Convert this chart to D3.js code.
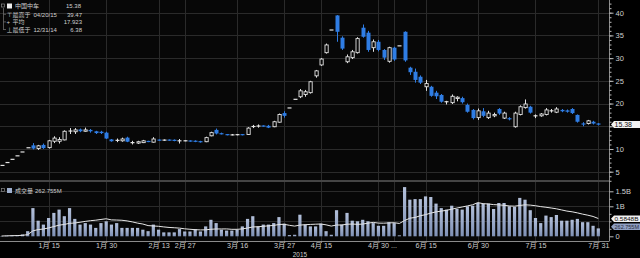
<!DOCTYPE html>
<html><head><meta charset="utf-8">
<script src="https://cdn.jsdelivr.net/npm/d3@7/dist/d3.min.js"></script>
<style>
html,body{margin:0;padding:0;background:#000;}
svg{display:block;}
text{font-family:"Liberation Sans","Noto Sans CJK SC",sans-serif;}
</style></head><body>
<svg id="c" width="640" height="258"></svg>
<script>
// ---------- DATA ----------
const dates = ["12/31","1/5","1/6","1/7","1/8","1/9","1/12","1/13","1/14","1/15","1/16","1/19","1/20","1/21","1/22","1/23","1/26","1/27","1/28","1/29","1/30","2/2","2/3","2/4","2/5","2/6","2/9","2/10","2/11","2/12","2/13","2/16","2/17","2/25","2/26","2/27","3/2","3/3","3/4","3/5","3/6","3/9","3/10","3/11","3/12","3/16","3/17","3/18","3/19","3/20","3/23","3/24","3/25","3/26","3/27","3/30","3/31","4/1","4/2","4/3","4/14","4/15","4/16","4/17","4/20","4/21","4/22","4/23","4/24","4/27","4/28","4/29","4/30","5/4","5/5","5/6","5/7","6/8","6/9","6/10","6/12","6/15","6/16","6/17","6/18","6/19","6/23","6/24","6/25","6/26","6/29","6/30","7/1","7/2","7/3","7/6","7/7","7/8","7/9","7/10","7/13","7/14","7/15","7/16","7/17","7/20","7/21","7/22","7/23","7/24","7/27","7/28","7/29","7/30","7/31"];
const open  = [6.38,7.02,7.72,8.49,9.34,10.27,10.8,10.1,10.9,10.3,11.7,11.7,12.0,13.9,13.8,14.3,13.9,14.2,13.9,13.8,13.6,12.1,11.9,11.8,12.5,11.4,11.3,11.4,11.7,11.5,12.0,11.9,12.0,12.0,11.8,11.8,11.8,11.8,11.7,11.6,12.9,14.2,13.4,13.2,13.1,13.1,13.2,13.2,14.9,15.0,15.1,15.1,14.9,15.9,17.9,19.03,20.93,21.5,22.0,22.4,26.1,28.5,31.2,36.19,39.4,34.5,29.2,30.1,31.2,36.7,35.6,32.3,33.6,31.8,29.3,32.3,32.7,35.8,27.9,27.0,25.9,23.7,23.7,22.4,21.9,20.4,20.2,21.1,21.2,19.7,18.6,16.9,18.3,16.9,17.3,18.8,16.8,16.7,14.9,17.6,19.1,19.3,17.3,17.3,17.6,18.4,18.1,18.6,18.5,18.8,17.5,15.6,15.6,16.0,15.6];
const high  = [6.38,7.02,7.72,8.49,9.34,10.27,11.3,10.9,11.2,12.0,12.8,12.6,14.1,14.6,14.6,14.5,14.7,14.4,14.0,14.0,13.8,12.2,12.3,12.5,12.7,11.8,11.8,12.0,11.8,12.6,12.1,12.1,12.1,12.1,12.2,11.9,11.9,11.9,11.8,12.7,13.8,14.5,13.6,13.3,13.3,13.3,13.3,14.8,15.3,15.4,15.2,15.3,16.2,17.8,18.3,19.03,20.93,23.2,23.0,25.0,27.4,30.0,33.2,36.19,39.47,34.8,30.8,31.8,34.6,37.4,36.0,34.1,34.0,32.0,32.5,32.5,32.7,35.9,28.1,27.7,26.2,25.2,23.9,22.8,22.1,20.6,22.0,21.6,21.5,20.0,18.8,18.9,19.0,18.4,18.0,19.0,18.2,17.0,18.2,19.6,20.9,19.5,17.6,17.9,19.0,18.8,19.2,18.8,18.7,19.0,17.6,15.9,16.4,16.2,15.7];
const low   = [6.38,7.02,7.72,8.49,9.34,10.27,9.9,9.8,10.0,10.1,11.3,11.2,11.9,13.3,13.3,13.7,13.8,13.6,13.3,13.3,12.2,11.6,11.5,11.6,11.5,11.0,11.1,11.3,11.5,11.4,11.8,11.8,11.8,11.7,11.2,11.7,11.6,11.5,11.4,11.5,12.8,13.2,13.2,13.0,13.0,13.0,13.0,13.1,14.6,14.7,14.9,14.6,14.8,15.8,16.9,19.03,20.93,21.2,21.5,22.2,25.7,28.3,31.0,36.19,33.6,31.8,28.9,29.8,31.0,34.5,31.4,31.4,31.5,29.6,29.0,29.4,32.7,29.2,26.3,24.6,24.3,22.8,21.5,21.0,20.2,19.8,19.9,20.5,20.0,18.0,16.5,16.4,17.0,16.6,17.0,17.5,16.6,16.3,14.7,17.4,18.9,17.8,16.8,17.1,17.4,18.0,17.9,18.1,18.0,17.7,15.8,15.0,15.4,15.4,15.2];
const close = [6.38,7.02,7.72,8.49,9.34,10.27,10.1,10.7,10.2,11.8,12.4,12.1,13.9,14.0,14.2,13.9,14.2,13.9,13.5,13.5,12.3,11.7,11.9,12.2,11.6,11.4,11.6,11.8,11.6,12.2,11.9,12.0,11.9,11.8,11.8,11.8,11.7,11.6,11.5,12.5,13.6,13.4,13.3,13.1,13.1,13.2,13.1,14.6,15.0,15.1,15.0,14.7,16.0,17.6,17.3,19.03,20.93,22.8,22.6,24.8,27.2,29.8,32.9,36.19,35.8,32.1,30.3,31.4,34.3,34.7,31.8,33.6,31.8,30.1,32.3,29.7,32.7,29.5,26.9,25.2,24.6,24.4,21.7,21.6,20.4,20.4,21.6,21.4,20.3,18.2,16.8,18.4,17.3,17.9,17.6,17.8,17.9,16.6,17.9,19.3,19.9,18.0,17.3,17.7,18.6,18.4,18.8,18.3,18.2,17.9,16.0,15.4,16.2,15.6,15.38];
// volume in billions of shares
const volume = [0.01,0.02,0.03,0.04,0.06,0.17,0.94,0.52,0.39,0.61,0.78,0.89,0.67,0.94,0.58,0.39,0.44,0.39,0.28,0.44,0.50,0.39,0.44,0.28,0.28,0.28,0.28,0.22,0.17,0.39,0.22,0.13,0.13,0.13,0.24,0.16,0.16,0.24,0.16,0.33,0.55,0.44,0.22,0.19,0.19,0.22,0.33,0.58,0.67,0.33,0.39,0.39,0.44,0.64,0.42,0.04,0.05,0.72,0.39,0.33,0.33,0.42,0.17,0.05,0.87,0.39,0.78,0.52,0.50,0.55,0.50,0.44,0.35,0.35,0.47,0.44,0.03,1.64,1.22,1.24,1.24,1.33,1.31,1.09,0.94,0.89,1.02,0.91,0.89,1.00,1.02,1.11,1.09,1.09,0.91,1.11,1.11,1.00,0.98,1.28,1.22,0.87,0.61,0.44,0.69,0.64,0.71,0.52,0.52,0.55,0.58,0.47,0.47,0.35,0.263];
const maWindow = 15;
const priceTicks = [5,10,15,20,25,30,35,40];
const volTicks = [0,1,1.5];
const volTickLabels = ["0","1B","1.5B"];
const xTickDates  = ["1/15","1/30","2/13","2/27","3/16","3/27","4/15","4/30","6/15","6/30","7/15","7/31"];
const xTickLabels = ["1月 15","1月 30","2月 13","2月 27","3月 16","3月 27","4月 15","4月 30 ...","6月 15","6月 30","7月 15","7月 31"];
const extraGridDates = ["5/6"];
const legendRows = [
  {sym:"⊤", name:"最高于", date:"04/20/15", val:"39.47"},
  {sym:"+", name:"平均",   date:"",         val:"17.923"},
  {sym:"⊥", name:"最低于", date:"12/31/14", val:"6.38"}
];

// ---------- LAYOUT ----------
const svg = d3.select("#c");
const axisX = 609.5;
const mainTop = 0, mainBot = 180, volTop = 182, volBot = 241;
const x  = d3.scalePoint().domain(dates).range([1.5, 598.3]);
const y  = d3.scaleLinear().domain([5,40]).range([171.7, 12.7]);
const yv = d3.scaleLinear().domain([0,1.5]).range([236.3, 191.3]);
const BLUE = "#2f7de4", WHITE = "#e4e4e4", GRID = "#2a2a2a", TXT = "#cfcfcf";
const lastClose = close[close.length-1];

svg.append("rect").attr("width",640).attr("height",258).attr("fill","#000");
svg.append("rect").attr("x",0).attr("y",mainTop).attr("width",axisX).attr("height",mainBot-mainTop).attr("fill","#070707");
svg.append("rect").attr("x",0).attr("y",volTop).attr("width",axisX).attr("height",volBot-volTop).attr("fill","#070707");

const defs = svg.append("defs");
const grad = defs.append("linearGradient").attr("id","vg").attr("x1",0).attr("x2",0).attr("y1",0).attr("y2",1);
grad.append("stop").attr("offset","0%").attr("stop-color","#b3c0da");
grad.append("stop").attr("offset","100%").attr("stop-color","#7f91b6");

// grid
const grid = svg.append("g").attr("stroke",GRID).attr("stroke-width",1).attr("shape-rendering","crispEdges");
priceTicks.forEach(v=>grid.append("line").attr("x1",0).attr("x2",axisX).attr("y1",Math.round(y(v))+0.5).attr("y2",Math.round(y(v))+0.5));
[0.5,1,1.5].forEach(v=>grid.append("line").attr("x1",0).attr("x2",axisX).attr("y1",Math.round(yv(v))+0.5).attr("y2",Math.round(yv(v))+0.5));
xTickDates.concat(extraGridDates).forEach(d=>{
  const xx = Math.round(x(d))+0.5;
  grid.append("line").attr("x1",xx).attr("x2",xx).attr("y1",mainTop).attr("y2",mainBot);
  grid.append("line").attr("x1",xx).attr("x2",xx).attr("y1",volTop).attr("y2",volBot);
});

// panel separator
svg.append("line").attr("x1",0).attr("x2",axisX).attr("y1",181).attr("y2",181).attr("stroke","#5c5c5c").attr("stroke-width",1.5);

// volume bars
const idx = d3.range(dates.length);
svg.append("g").selectAll("rect").data(idx).join("rect")
  .attr("x",i=>x(dates[i])-1.6).attr("width",3.2)
  .attr("y",i=>yv(volume[i])).attr("height",i=>yv(0)-yv(volume[i]))
  .attr("fill","url(#vg)");

// volume moving average
const ma = idx.map(i=>d3.mean(volume.slice(Math.max(0,i-maWindow+1), i+1)));
svg.append("path").datum(idx)
  .attr("d", d3.line().x(i=>x(dates[i])).y(i=>yv(ma[i])))
  .attr("fill","none").attr("stroke","#e6e6e6").attr("stroke-width",1);

// candles
const cg = svg.append("g");
idx.forEach(i=>{
  const cx = Math.round(x(dates[i]))+0.5;
  const up = close[i] >= open[i];
  const col = up ? WHITE : BLUE;
  cg.append("line").attr("x1",cx).attr("x2",cx).attr("y1",y(high[i])).attr("y2",y(low[i])).attr("stroke",col).attr("stroke-width",1);
  const top = y(Math.max(open[i],close[i])), bot = y(Math.min(open[i],close[i]));
  if (bot-top < 1.2) {
    cg.append("line").attr("x1",cx-2).attr("x2",cx+2).attr("y1",(top+bot)/2).attr("y2",(top+bot)/2).attr("stroke",col).attr("stroke-width",1.2);
  } else if (up) {
    cg.append("rect").attr("x",cx-1.5).attr("width",3.2).attr("y",top).attr("height",bot-top).attr("fill","#070707").attr("stroke",col).attr("stroke-width",0.9);
  } else {
    cg.append("rect").attr("x",cx-2).attr("width",4).attr("y",top).attr("height",bot-top).attr("fill",col);
  }
});

// right axes
svg.append("line").attr("x1",axisX).attr("x2",axisX).attr("y1",0).attr("y2",volBot).attr("stroke","#8a8a8a");
const pAx = svg.append("g").attr("transform",`translate(${axisX},0)`)
  .call(d3.axisRight(y).tickValues(priceTicks).tickSize(4).tickPadding(2).tickFormat(d3.format("d")));
const pMin = svg.append("g").attr("transform",`translate(${axisX},0)`)
  .call(d3.axisRight(y).tickValues(d3.range(3,43)).tickSize(2).tickFormat(""));
const vAx = svg.append("g").attr("transform",`translate(${axisX},0)`)
  .call(d3.axisRight(yv).tickValues(volTicks).tickSize(4).tickPadding(2).tickFormat((d,k)=>volTickLabels[k]));
const vMin = svg.append("g").attr("transform",`translate(${axisX},0)`)
  .call(d3.axisRight(yv).tickValues([0.25,0.5,0.75,1.25]).tickSize(2).tickFormat(""));
[pAx,pMin,vAx,vMin].forEach(g=>{
  g.select(".domain").remove();
  g.selectAll("line").attr("stroke","#bbbbbb");
  g.selectAll("text").attr("fill",TXT).attr("font-size",7.5);
});
// the last-price flag covers the "15" label
pAx.selectAll(".tick").filter(d=>Math.abs(y(d)-y(lastClose))<6).select("text").remove();

// x axis
svg.append("line").attr("x1",0).attr("x2",axisX).attr("y1",volBot+0.5).attr("y2",volBot+0.5).attr("stroke","#8a8a8a");
const xAx = svg.append("g").attr("transform",`translate(0,${volBot})`)
  .call(d3.axisBottom(x).tickValues(xTickDates).tickSize(2).tickPadding(0).tickFormat((d,k)=>xTickLabels[k]));
xAx.select(".domain").remove();
xAx.selectAll("line").attr("stroke","#999");
xAx.selectAll("text").attr("fill",TXT).attr("font-size",7.2);
xAx.selectAll("text").filter(d=>d==="4/30").attr("text-anchor","start").attr("dx",-11);
svg.append("text").attr("x",x("4/1")).attr("y",256.8).attr("text-anchor","middle").attr("fill",TXT).attr("font-size",6.4).text("2015");

// last value flags
function flag(yc, txt, bg, fg, h, fs, tl){
  const g = svg.append("g");
  g.append("path").attr("d",`M611,${yc} L614,${yc-h/2} L640,${yc-h/2} L640,${yc+h/2} L614,${yc+h/2} Z`).attr("fill",bg);
  const t = g.append("text").attr("x",614.5).attr("y",yc+fs*0.36).attr("fill",fg).attr("font-size",fs).text(txt);
  if (tl) t.attr("textLength",tl).attr("lengthAdjust","spacingAndGlyphs");
}
flag(y(lastClose), "15.38", "#f2f2f2", "#111", 7, 7, 0);
flag(218.8, "0.5848B", "#f2f2f2", "#111", 6.5, 6, 24);
flag(226.8, "262.755M", "#8f9fc2", "#2a2a3a", 6.5, 6, 24.5);

// legend
const FS = 6;
const lg = svg.append("g");
lg.append("rect").attr("x",1.5).attr("y",4).attr("width",3).attr("height",3).attr("fill","none").attr("stroke","#888").attr("stroke-width",0.7);
lg.append("rect").attr("x",7).attr("y",3.5).attr("width",5).attr("height",5).attr("fill","#eeeeee");
lg.append("text").attr("x",15).attr("y",8.4).attr("fill",TXT).attr("font-size",FS).text("中国中车");
lg.append("text").attr("x",81).attr("y",8.4).attr("text-anchor","end").attr("fill",TXT).attr("font-size",FS).text(lastClose.toFixed(2));
lg.append("line").attr("x1",3.5).attr("x2",3.5).attr("y1",8).attr("y2",30).attr("stroke","#777").attr("stroke-width",0.7);
legendRows.forEach((r,k)=>{
  const yy = 16.6 + k*7.6;
  lg.append("line").attr("x1",3.5).attr("x2",6).attr("y1",yy-2.3).attr("y2",yy-2.3).attr("stroke","#777").attr("stroke-width",0.7);
  lg.append("text").attr("x",6.5).attr("y",yy).attr("fill",TXT).attr("font-size",FS).text(r.sym);
  lg.append("text").attr("x",12.5).attr("y",yy).attr("fill",TXT).attr("font-size",FS).text(r.name);
  if (r.date) lg.append("text").attr("x",33.5).attr("y",yy).attr("fill",TXT).attr("font-size",FS).text(r.date);
  lg.append("text").attr("x",82).attr("y",yy).attr("text-anchor","end").attr("fill",TXT).attr("font-size",FS).text(r.val);
});
// volume legend
lg.append("rect").attr("x",1.5).attr("y",188.5).attr("width",3).attr("height",3).attr("fill","none").attr("stroke","#888").attr("stroke-width",0.7);
lg.append("rect").attr("x",7).attr("y",188).attr("width",5).attr("height",5).attr("fill","#9fb0cf");
lg.append("text").attr("x",15).attr("y",193).attr("fill",TXT).attr("font-size",FS).text("成交量");
lg.append("text").attr("x",35).attr("y",193).attr("fill",TXT).attr("font-size",FS).text("262.755M");
</script>
</body></html>
